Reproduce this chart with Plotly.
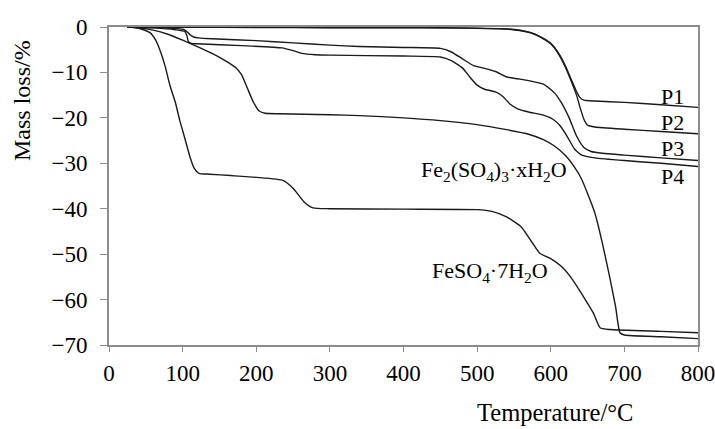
import plotly.graph_objects as go

# Temperature (°C) and mass loss (%) for each sample
T_P1 = [25, 100, 200, 300, 400, 450, 500, 530, 550, 565, 578, 590, 600, 610, 620, 628, 635, 640, 645, 660, 700, 750, 800]
M_P1 = [0, 0, -0.05, -0.1, -0.1, -0.15, -0.25, -0.35, -0.55, -0.9, -1.5, -2.5, -3.6, -5.6, -8.6, -11.6, -14.2, -15.6, -16.1, -16.3, -16.6, -17.1, -17.7]

T_P2 = [25, 100, 200, 300, 400, 450, 500, 530, 550, 565, 578, 590, 600, 610, 620, 628, 635, 640, 645, 650, 660, 700, 750, 800]
M_P2 = [0, -0.05, -0.1, -0.15, -0.15, -0.2, -0.3, -0.4, -0.6, -1.0, -1.6, -2.6, -3.7, -5.8, -8.9, -12.0, -15.0, -17.8, -20.3, -21.6, -22.0, -22.5, -23.0, -23.5]

T_P3 = [25, 60, 90, 100, 105, 110, 115, 122, 140, 200, 250, 300, 340, 400, 450, 465, 480, 495, 510, 525, 540, 555, 570, 590, 605, 615, 625, 635, 645, 655, 670, 700, 750, 800]
M_P3 = [0, -0.1, -0.3, -0.5, -0.9, -1.7, -2.2, -2.4, -2.6, -3.0, -3.5, -4.0, -4.3, -4.5, -4.7, -5.5, -7.0, -8.5, -9.1, -9.8, -11.0, -11.4, -11.8, -12.6, -14.5, -16.8, -20.0, -24.0, -26.5, -27.4, -27.8, -28.2, -28.8, -29.4]

T_P4 = [25, 60, 90, 103, 106, 108, 112, 120, 180, 235, 250, 262, 280, 300, 400, 450, 465, 480, 490, 500, 510, 525, 535, 545, 555, 570, 590, 603, 613, 622, 632, 642, 660, 700, 750, 800]
M_P4 = [0, -0.2, -0.6, -1.0, -2.0, -3.3, -3.6, -3.7, -4.1, -4.6, -5.2, -5.8, -6.1, -6.2, -6.4, -6.6, -7.4, -9.0, -11.0, -12.8, -13.7, -14.3, -15.3, -17.0, -18.0, -18.7, -19.4, -20.3, -21.8, -24.0, -26.8, -28.2, -28.8, -29.4, -30.0, -30.7]

T_FE2 = [25, 40, 60, 80, 100, 120, 140, 160, 172, 180, 188, 196, 204, 212, 230, 300, 340, 400, 450, 500, 540, 570, 590, 605, 620, 632, 642, 652, 660, 670, 680, 688, 694, 700, 750, 800]
M_FE2 = [0, -0.2, -0.7, -1.6, -2.9, -4.3, -5.8, -7.6, -8.9, -10.5, -13.5, -16.5, -18.5, -19.0, -19.1, -19.3, -19.5, -20.0, -20.6, -21.5, -22.6, -23.6, -24.8, -26.2, -28.3, -30.8, -33.5, -37.5, -41.0, -47.5, -55.0, -61.5, -67.3, -67.8, -68.2, -68.6]

T_FES = [25, 35, 45, 56, 63, 69, 76, 83, 90, 96, 103, 110, 116, 122, 137, 165, 200, 237, 250, 265, 277, 300, 400, 500, 520, 540, 560, 575, 585, 600, 615, 630, 645, 658, 667, 680, 750, 800]
M_FES = [0, -0.1, -0.5, -1.3, -2.8, -5.0, -8.5, -13.0, -16.5, -20.5, -24.5, -28.6, -31.2, -32.2, -32.4, -32.7, -33.1, -33.8, -35.5, -38.5, -39.8, -40.0, -40.1, -40.2, -40.6, -41.8, -44.0, -47.5, -49.8, -51.0, -52.8, -55.7, -59.5, -63.0, -66.2, -66.6, -67.0, -67.3]

SERIES = [
    ("P1", T_P1, M_P1),
    ("P2", T_P2, M_P2),
    ("P3", T_P3, M_P3),
    ("P4", T_P4, M_P4),
    ("Fe2(SO4)3·xH2O", T_FE2, M_FE2),
    ("FeSO4·7H2O", T_FES, M_FES),
]

X_TICKS = [0, 100, 200, 300, 400, 500, 600, 700, 800]
Y_TICKS = [0, -10, -20, -30, -40, -50, -60, -70]

FONT = "Liberation Serif, Times New Roman, serif"

fig = go.Figure()
for name, t, m in SERIES:
    fig.add_trace(go.Scatter(x=t, y=m, mode="lines", name=name,
                             line=dict(color="#1a1a1a", width=1.4, shape="spline", smoothing=0.5),
                             showlegend=False, hoverinfo="skip"))

# Curve labels (data coordinates)
labels = [
    ("P1", 765, -15.3),
    ("P2", 765, -21.0),
    ("P3", 765, -26.8),
    ("P4", 765, -32.8),
    ("Fe<sub>2</sub>(SO<sub>4</sub>)<sub>3</sub>·xH<sub>2</sub>O", 523, -31.8),
    ("FeSO<sub>4</sub>·7H<sub>2</sub>O", 518, -54.0),
]
for txt, x, y in labels:
    fig.add_annotation(x=x, y=y, text=txt, showarrow=False,
                       font=dict(family=FONT, size=22, color="black"))

# Axis titles as paper annotations
fig.add_annotation(xref="paper", yref="paper", x=0.757, y=-0.211, text="Temperature/°C",
                   showarrow=False, font=dict(family=FONT, size=24.5, color="black"),
                   yanchor="middle", xanchor="center")
fig.add_annotation(xref="paper", yref="paper", x=-0.148, y=0.77, text="Mass loss/%",
                   textangle=-90, showarrow=False,
                   font=dict(family=FONT, size=24, color="black"),
                   xanchor="center", yanchor="middle")

fig.update_xaxes(range=[0, 800], tickvals=X_TICKS, ticks="outside", ticklen=5,
                 tickcolor="#8c8c8c", showline=True, linecolor="#8c8c8c", linewidth=2,
                 mirror=True, showgrid=False, zeroline=False, ticklabeloverflow="allow",
                 automargin=False,
                 tickfont=dict(family=FONT, size=23, color="black"), ticklabelstandoff=1)
fig.update_yaxes(range=[-70, 0], tickvals=Y_TICKS, ticks="outside", ticklen=7,
                 tickcolor="#8c8c8c", showline=True, linecolor="#8c8c8c", linewidth=2,
                 mirror=True, showgrid=False, zeroline=False, automargin=False,
                 tickfont=dict(family=FONT, size=23, color="black"), ticklabelstandoff=8)

fig.update_layout(width=715, height=429, margin=dict(l=109, r=17, t=27, b=84, autoexpand=False),
                  plot_bgcolor="white", paper_bgcolor="white",
                  font=dict(family=FONT, color="black"))

# remove the default page margin so the figure fills the window exactly
fig.write_html("out.html", config={"displayModeBar": False},
               post_script="document.body.style.margin='0';document.body.style.overflow='hidden';")
